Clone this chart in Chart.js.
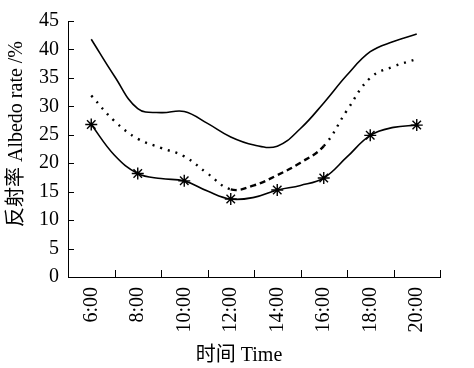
<!DOCTYPE html>
<html>
<head>
<meta charset="utf-8">
<script src="https://cdn.jsdelivr.net/npm/chart.js@4.4.0/dist/chart.umd.min.js"></script>
<style>
  html, body { margin: 0; padding: 0; background: #fff; }
  #wrap { width: 474px; height: 368px; }
</style>
</head>
<body>
<div id="wrap"><canvas id="albedo-chart"></canvas></div>
<script>
// hourly readings, 6:00 - 20:00
const hours = [6, 7, 8, 9, 10, 11, 12, 13, 14, 15, 16, 17, 18, 19, 20];
const upperRate = [41.8, 35.3, 29.6, 28.9, 29.1, 27.0, 24.6, 23.2, 23.0, 26.1, 30.6, 35.5, 39.6, 41.4, 42.7];
const middleRate = [31.9, 27.4, 24.3, 22.7, 21.2, 18.2, 15.4, 16.1, 17.9, 20.1, 23.0, 29.3, 35.0, 37.0, 38.3];
const lowerRate = [26.8, 21.4, 18.2, 17.3, 16.9, 15.1, 13.7, 14.0, 15.3, 16.1, 17.4, 21.1, 24.9, 26.3, 26.7];

const yTitle = '反射率 Albedo rate /%';
const xTitle = '时间 Time';

const fontFamily = "'Liberation Serif', 'Noto Sans CJK SC', serif";

const toPoints = values => hours.map((h, i) => ({ x: h, y: values[i] }));

// short tick marks pointing into the plot
const innerTicks = {
  id: 'innerTicks',
  afterDatasetsDraw(chart) {
    const { ctx, chartArea, scales: { x, y } } = chart;
    ctx.save();
    ctx.strokeStyle = '#000';
    ctx.lineWidth = 1;
    ctx.beginPath();
    x.ticks.forEach(t => {
      if (t.value % 2 === 0) return;
      const px = Math.round(x.getPixelForValue(t.value)) + 0.5;
      ctx.moveTo(px, chartArea.bottom);
      ctx.lineTo(px, chartArea.bottom - 7);
    });
    y.ticks.forEach(t => {
      const py = Math.round(y.getPixelForValue(t.value)) + 0.5;
      ctx.moveTo(chartArea.left, py);
      ctx.lineTo(chartArea.left + 6, py);
    });
    ctx.stroke();
    ctx.restore();
  }
};

const ctx = document.getElementById('albedo-chart').getContext('2d');
window.albedoChart = new Chart(ctx, {
  type: 'line',
  data: {
    datasets: [
      {
        label: 'upper',
        data: toPoints(upperRate),
        borderColor: '#000',
        borderWidth: 1.6,
        pointRadius: 0,
        tension: 0.4,
        fill: false
      },
      {
        label: 'middle',
        data: toPoints(middleRate),
        borderColor: '#000',
        borderWidth: 2.4,
        pointRadius: 0,
        tension: 0.4,
        fill: false,
        segment: {
          borderDash: c => (c.p0.parsed.x >= 12 && c.p1.parsed.x <= 16) ? [6, 4] : [2, 6]
        }
      },
      {
        label: 'lower',
        data: toPoints(lowerRate),
        borderColor: '#000',
        borderWidth: 1.6,
        tension: 0.4,
        fill: false,
        pointStyle: 'star',
        pointRadius: hours.map(h => h % 2 === 0 ? 6 : 0),
        pointBorderColor: '#000',
        pointBorderWidth: 1.4,
        pointBackgroundColor: '#000'
      }
    ]
  },
  options: {
    responsive: true,
    maintainAspectRatio: false,
    animation: false,
    layout: { padding: { top: 11, right: 12, bottom: 0, left: 0 } },
    plugins: {
      legend: { display: false },
      tooltip: { enabled: false }
    },
    scales: {
      x: {
        type: 'linear',
        min: 5,
        max: 21,
        grid: { display: false, drawTicks: false },
        border: { display: true, color: '#000', width: 1 },
        ticks: {
          stepSize: 1,
          autoSkip: false,
          minRotation: 90,
          maxRotation: 90,
          padding: 10,
          color: '#000',
          font: { family: fontFamily, size: 20 },
          callback: v => v % 2 === 0 ? v + ':00' : ''
        },
        title: {
          display: true,
          text: xTitle + '      ',
          color: '#000',
          font: { family: fontFamily, size: 20 },
          padding: { top: 0, bottom: 0 }
        },
        afterFit: scale => { scale.height = 91; }
      },
      y: {
        min: 0,
        max: 45,
        grid: { display: false, drawTicks: false },
        border: { display: true, color: '#000', width: 1 },
        ticks: {
          stepSize: 5,
          padding: 9,
          color: '#000',
          font: { family: fontFamily, size: 20 }
        },
        title: {
          display: true,
          text: '      ' + yTitle,
          color: '#000',
          font: { family: fontFamily, size: 20 },
          padding: { top: 5, bottom: 0 }
        },
        afterFit: scale => { scale.width = 68; }
      }
    }
  },
  plugins: [innerTicks]
});
</script>
</body>
</html>
